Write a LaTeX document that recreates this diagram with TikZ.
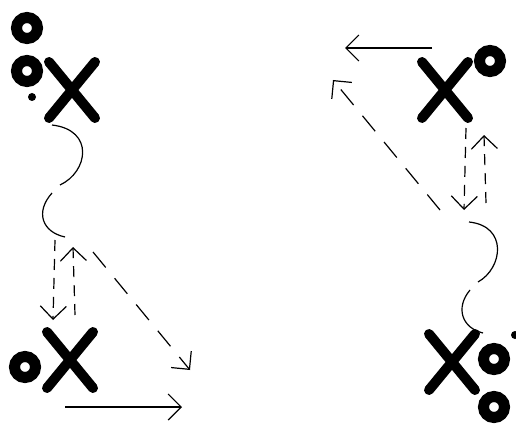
\documentclass[tikz,border=0pt]{standalone}
\usepackage{tikz}
\usetikzlibrary{positioning,arrows.meta,shapes.misc}
\tikzset{
  xplayer/.style={cross out, draw=black, line width=10pt, line cap=round, minimum width=36pt, minimum height=46pt, inner sep=0pt},
  oplayer/.style={circle, draw=black, line width=11pt, minimum size=21pt, inner sep=0pt},
  ball/.style={circle, fill=black, minimum size=8pt, inner sep=0pt},
  run/.style={-{Straight Barb[length=13pt,width=26pt]}, line width=1.2pt},
  pass/.style={run, dash pattern=on 11pt off 8pt},
  longpass/.style={run, dash pattern=on 20pt off 14pt},
  dribble/.style={line width=1.2pt},
}

\begin{document}
\begin{tikzpicture}[x=1pt, y=-1pt]
  \useasboundingbox (0,0) rectangle (516,425);

  \node[oplayer] (oa1) at (27,28) {};
  \node[oplayer, below=11pt of oa1] (oa2) {};
  \node[ball] (ba) at (32,97) {};
  \node[xplayer] (xa1) at (72,90) {};
  \node[xplayer] (xa2) at (70,360) {};
  \node[oplayer] (oa3) at (25,367) {};

  \node[xplayer] (xb1) at (445,90) {};
  \node[oplayer] (ob1) at (490,61) {};
  \node[xplayer] (xb2) at (452,362) {};
  \node[oplayer] (ob2) at (494,359) {};
  \node[oplayer, below=16pt of ob2] (ob3) {};
  \node[ball] (bb) at (515,335) {};

  \coordinate (da1) at (52,125);
  \coordinate (da2) at (60,185);
  \coordinate (da3) at (52,193);
  \coordinate (da4) at (65,237);
  \coordinate (pa1) at (55,240);
  \coordinate (pa2) at (53,320);
  \coordinate (pa3) at (75,315);
  \coordinate (pa4) at (73,247);
  \coordinate (pa5) at (93,252);
  \coordinate (pa6) at (190,370);
  \coordinate (ra1) at (65,407);
  \coordinate (ra2) at (182,407);

  \coordinate (db1) at (469,222);
  \coordinate (db2) at (478,282);
  \coordinate (db3) at (470,290);
  \coordinate (db4) at (483,333);
  \coordinate (pb1) at (466,128);
  \coordinate (pb2) at (464,210);
  \coordinate (pb3) at (486,203);
  \coordinate (pb4) at (484,135);
  \coordinate (pb5) at (440,210);
  \coordinate (pb6) at (333,80);
  \coordinate (rb1) at (432,48);
  \coordinate (rb2) at (345,48);

  \draw[dribble] (da1) .. controls (95,130) and (88,172) .. (da2);
  \draw[dribble] (da3) .. controls (35,212) and (42,232) .. (da4);
  \draw[pass] (pa1) -- (pa2);
  \draw[pass] (pa3) -- (pa4);
  \draw[longpass] (pa5) -- (pa6);
  \draw[run] (ra1) -- (ra2);

  \draw[dribble] (db1) .. controls (508,226) and (503,268) .. (db2);
  \draw[dribble] (db3) .. controls (455,308) and (462,328) .. (db4);
  \draw[pass] (pb1) -- (pb2);
  \draw[pass] (pb3) -- (pb4);
  \draw[longpass] (pb5) -- (pb6);
  \draw[run] (rb1) -- (rb2);
\end{tikzpicture}
\end{document}
